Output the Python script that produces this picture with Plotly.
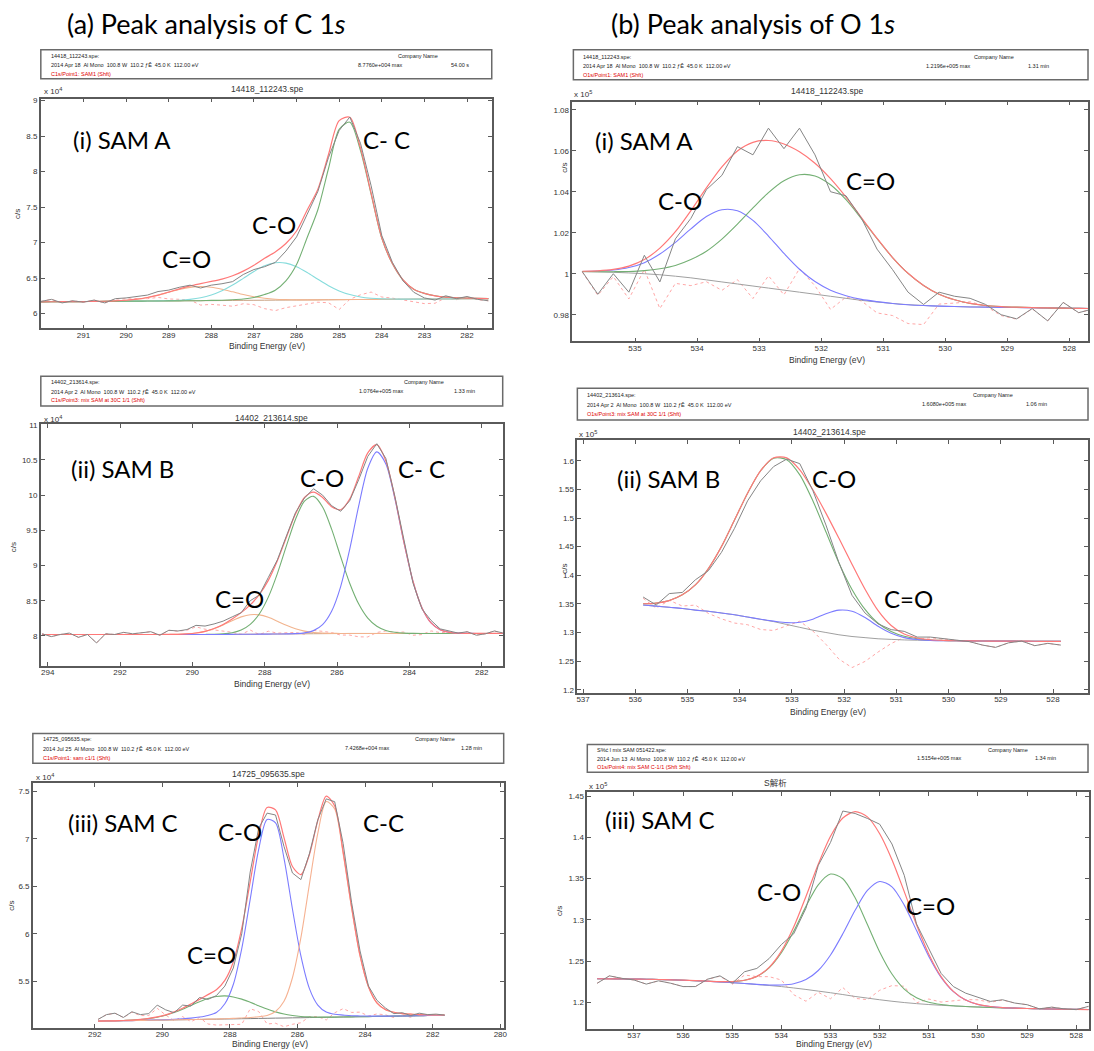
import numpy as np
import plotly.graph_objects as go

W, H = 1094, 1051

# ======================= DATA =======================
# ---- (a)(i) C 1s, SAM A   (c/s in units of 1e4) ----
a1_be = [292.0, 291.75, 291.5, 291.25, 291.0, 290.75, 290.5, 290.25, 290.0, 289.75,
         289.5, 289.25, 289.0, 288.75, 288.5, 288.25, 288.0, 287.75, 287.5, 287.25,
         287.0, 286.75, 286.5, 286.25, 286.0, 285.75, 285.5, 285.25, 285.0, 284.75,
         284.5, 284.25, 284.0, 283.75, 283.5, 283.25, 283.0, 282.75, 282.5, 282.25,
         282.0, 281.75, 281.5]
a1_raw = [6.17, 6.20, 6.15, 6.18, 6.16, 6.19, 6.15, 6.21, 6.22, 6.24, 6.26, 6.31, 6.33, 6.37,
          6.40, 6.36, 6.40, 6.42, 6.45, 6.55, 6.62, 6.66, 6.72, 6.88, 7.08, 7.40, 7.72, 8.20,
          8.58, 8.77, 8.40, 7.80, 7.10, 6.72, 6.46, 6.30, 6.22, 6.19, 6.25, 6.21, 6.24, 6.20, 6.18]
a1_bg = [6.165, 6.166, 6.167, 6.168, 6.169, 6.170, 6.171, 6.172, 6.174, 6.175, 6.176, 6.177,
         6.178, 6.179, 6.180, 6.181, 6.182, 6.183, 6.185, 6.186, 6.187, 6.188, 6.189, 6.190,
         6.191, 6.192, 6.193, 6.194, 6.196, 6.197, 6.198, 6.199, 6.200, 6.201, 6.202, 6.203,
         6.204, 6.205, 6.206, 6.207, 6.208, 6.209, 6.210]
a1_peak_c_eq_o = [0, 0, 0, 0, 0, 0.001, 0.002, 0.006, 0.013, 0.027, 0.05, 0.082, 0.121, 0.16,
                  0.189, 0.2, 0.189, 0.16, 0.121, 0.082, 0.05, 0.027, 0.013, 0.006, 0.002, 0.001,
                  0, 0, 0, 0, 0, 0, 0, 0, 0, 0, 0, 0, 0, 0, 0, 0, 0]
a1_peak_c_o = [0, 0, 0, 0, 0, 0, 0, 0, 0, 0, 0, 0.001, 0.0035, 0.009, 0.02, 0.041, 0.079, 0.137,
               0.216, 0.31, 0.405, 0.484, 0.526, 0.521, 0.47, 0.387, 0.29, 0.198, 0.123, 0.07,
               0.036, 0.017, 0.007, 0.003, 0.001, 0, 0, 0, 0, 0, 0, 0, 0]
a1_peak_c_c = [0, 0, 0, 0, 0, 0, 0, 0, 0, 0, 0, 0, 0, 0, 0, 0, 0.003, 0.005, 0.01, 0.02, 0.04,
               0.08, 0.14, 0.27, 0.5, 0.88, 1.27, 1.85, 2.4, 2.5, 2.1, 1.48, 0.86, 0.5, 0.27,
               0.14, 0.08, 0.045, 0.025, 0.015, 0.01, 0.005, 0]
a1_xticks = [291, 290, 289, 288, 287, 286, 285, 284, 283, 282]
a1_yticks = [6, 6.5, 7, 7.5, 8, 8.5, 9]
a1_ylabels = ["6", "6.5", "7", "7.5", "8", "8.5", "9"]

# ---- (b)(i) O 1s, SAM A   (c/s in units of 1e5) ----
b1_be = [535.85, 535.6, 535.35, 535.1, 534.85, 534.6, 534.35, 534.1, 533.85, 533.6, 533.35,
         533.1, 532.85, 532.6, 532.35, 532.1, 531.85, 531.6, 531.35, 531.1, 530.85, 530.6,
         530.35, 530.1, 529.85, 529.6, 529.35, 529.1, 528.85, 528.6, 528.35, 528.1, 527.85, 527.6]
b1_raw = [1.001, 0.990, 1.000, 0.991, 1.009, 0.996, 1.017, 1.027, 1.041, 1.048, 1.062, 1.058,
          1.071, 1.061, 1.071, 1.058, 1.040, 1.038, 1.027, 1.012, 1.002, 0.991, 0.985, 0.991,
          0.989, 0.988, 0.985, 0.980, 0.978, 0.983, 0.977, 0.986, 0.981, 0.983]
b1_bg = [1.0010, 1.0009, 1.0007, 1.0004, 1.0000, 0.9995, 0.9988, 0.9980, 0.9970, 0.9960, 0.9950,
         0.9940, 0.9930, 0.9920, 0.9910, 0.9900, 0.9890, 0.9880, 0.9870, 0.9862, 0.9855, 0.9849,
         0.9845, 0.9842, 0.9840, 0.9838, 0.9837, 0.9836, 0.9835, 0.9834, 0.9833, 0.9832, 0.9831,
         0.9830]
b1_peak_c_o = [0.0001, 0.0004, 0.0011, 0.0026, 0.0054, 0.0101, 0.0165, 0.0239, 0.0309, 0.0352,
               0.0357, 0.032, 0.0254, 0.0179, 0.0112, 0.0062, 0.003, 0.0013, 0.0005, 0.0002,
               0, 0, 0, 0, 0, 0, 0, 0, 0, 0, 0, 0, 0, 0]
b1_peak_c_eq_o = [0.0001, 0.0001, 0.0003, 0.0007, 0.0015, 0.0029, 0.0052, 0.0089, 0.014, 0.0209,
                  0.0292, 0.0381, 0.0466, 0.0534, 0.0573, 0.0577, 0.0544, 0.0481, 0.0398, 0.0309,
                  0.0224, 0.0153, 0.0098, 0.0058, 0.0033, 0.0017, 0.0008, 0.0004, 0.0002, 0.0001,
                  0, 0, 0, 0]
b1_xticks = [535, 534, 533, 532, 531, 530, 529, 528]
b1_yticks = [0.98, 1.0, 1.02, 1.04, 1.06, 1.08]
b1_ylabels = ["0.98", "1", "1.02", "1.04", "1.06", "1.08"]

# ---- (a)(ii) C 1s, SAM B   (c/s in units of 1e4) ----
a2_be = [294.15, 293.9, 293.65, 293.4, 293.15, 292.9, 292.65, 292.4, 292.15, 291.9, 291.65,
         291.4, 291.15, 290.9, 290.65, 290.4, 290.15, 289.9, 289.65, 289.4, 289.15, 288.9,
         288.65, 288.4, 288.15, 287.9, 287.65, 287.4, 287.15, 286.9, 286.65, 286.4, 286.15,
         285.9, 285.65, 285.4, 285.15, 284.9, 284.65, 284.4, 284.15, 283.9, 283.65, 283.4,
         283.15, 282.9, 282.65, 282.4, 282.15, 281.9, 281.65, 281.4]
a2_raw = [8.03, 7.99, 8.02, 8.04, 7.98, 8.02, 7.90, 8.03, 8.02, 8.05, 8.03, 8.04, 8.06, 8.01,
          8.08, 8.07, 8.09, 8.15, 8.14, 8.17, 8.21, 8.27, 8.33, 8.50, 8.58, 8.83, 9.08, 9.42,
          9.75, 9.96, 10.09, 10.00, 9.85, 9.77, 9.92, 10.22, 10.55, 10.73, 10.52, 9.98, 9.35,
          8.75, 8.38, 8.22, 8.10, 8.07, 8.04, 8.06, 8.01, 8.03, 8.07, 8.04]
a2_bg = [8.020, 8.020, 8.020, 8.020, 8.020, 8.020, 8.020, 8.020, 8.020, 8.020, 8.020, 8.020,
         8.020, 8.020, 8.020, 8.020, 8.020, 8.020, 8.020, 8.020, 8.021, 8.022, 8.023, 8.024,
         8.025, 8.026, 8.027, 8.028, 8.029, 8.030, 8.031, 8.032, 8.033, 8.034, 8.035, 8.035,
         8.035, 8.035, 8.035, 8.035, 8.035, 8.035, 8.035, 8.035, 8.035, 8.035, 8.035, 8.035,
         8.035, 8.035, 8.035, 8.035]
a2_peak_c_eq_o = [0, 0, 0, 0, 0, 0, 0, 0, 0, 0, 0, 0, 0, 0, 0.001, 0.003, 0.009, 0.021, 0.044,
                  0.082, 0.134, 0.194, 0.247, 0.277, 0.274, 0.238, 0.182, 0.122, 0.073, 0.038,
                  0.017, 0.007, 0.003, 0.001, 0, 0, 0, 0, 0, 0, 0, 0, 0, 0, 0, 0, 0, 0, 0, 0, 0, 0]
a2_peak_c_o = [0, 0, 0, 0, 0, 0, 0, 0, 0, 0, 0, 0, 0, 0, 0, 0, 0, 0, 0.001, 0.003, 0.008, 0.024,
               0.061, 0.14, 0.287, 0.525, 0.858, 1.25, 1.625, 1.885, 1.951, 1.80, 1.483, 1.09,
               0.714, 0.418, 0.218, 0.102, 0.042, 0.016, 0.005, 0.001, 0, 0, 0, 0, 0, 0, 0, 0, 0, 0]
a2_peak_c_c = [0, 0, 0, 0, 0, 0, 0, 0, 0, 0, 0, 0, 0, 0, 0, 0, 0, 0, 0, 0, 0, 0, 0, 0, 0, 0, 0,
               0.001, 0.003, 0.013, 0.044, 0.128, 0.317, 0.667, 1.194, 1.815, 2.347, 2.579,
               2.408, 1.912, 1.29, 0.74, 0.361, 0.149, 0.053, 0.016, 0.004, 0.001, 0, 0, 0, 0]
a2_xticks = [294, 292, 290, 288, 286, 284, 282]
a2_yticks = [8, 8.5, 9, 9.5, 10, 10.5, 11]
a2_ylabels = ["8", "8.5", "9", "9.5", "10", "10.5", "11"]

# ---- (b)(ii) O 1s, SAM B   (c/s in units of 1e5) ----
b2_be = [535.85, 535.6, 535.35, 535.1, 534.85, 534.6, 534.35, 534.1, 533.85, 533.6, 533.35,
         533.1, 532.85, 532.6, 532.35, 532.1, 531.85, 531.6, 531.35, 531.1, 530.85, 530.6,
         530.35, 530.1, 529.85, 529.6, 529.35, 529.1, 528.85, 528.6, 528.35, 528.1, 527.85]
b2_raw = [1.362, 1.348, 1.368, 1.370, 1.392, 1.408, 1.440, 1.482, 1.530, 1.565, 1.590, 1.603,
          1.595, 1.548, 1.488, 1.422, 1.365, 1.334, 1.315, 1.305, 1.302, 1.292, 1.292, 1.289,
          1.287, 1.284, 1.278, 1.274, 1.282, 1.285, 1.277, 1.281, 1.278]
b2_bg = [1.348, 1.346, 1.344, 1.342, 1.339, 1.337, 1.334, 1.331, 1.327, 1.323, 1.319, 1.314,
         1.309, 1.304, 1.300, 1.296, 1.293, 1.291, 1.289, 1.288, 1.287, 1.2865, 1.286, 1.2857,
         1.2855, 1.2853, 1.2851, 1.285, 1.2849, 1.2848, 1.2847, 1.2846, 1.2845]
b2_peak_c_o = [0.0022, 0.0054, 0.0118, 0.0238, 0.0441, 0.0747, 0.1161, 0.1655, 0.2164, 0.2596,
               0.2855, 0.288, 0.2664, 0.2261, 0.1759, 0.1255, 0.0822, 0.0493, 0.0272, 0.0137,
               0.0064, 0.0027, 0.0010, 0.0004, 0.0001, 0, 0, 0, 0, 0, 0, 0, 0]
b2_peak_c_eq_o = [0, 0, 0, 0, 0, 0, 0, 0, 0, 0.0002, 0.0009, 0.0032, 0.0089, 0.0193, 0.0327,
                  0.043, 0.0441, 0.0352, 0.0219, 0.0106, 0.004, 0.0012, 0.0003, 0, 0, 0, 0, 0,
                  0, 0, 0, 0, 0]
b2_xticks = [537, 536, 535, 534, 533, 532, 531, 530, 529, 528]
b2_yticks = [1.2, 1.25, 1.3, 1.35, 1.4, 1.45, 1.5, 1.55, 1.6]
b2_ylabels = ["1.2", "1.25", "1.3", "1.35", "1.4", "1.45", "1.5", "1.55", "1.6"]

# ---- (a)(iii) C 1s, SAM C   (c/s in units of 1e4) ----
a3_be = [291.9, 291.65, 291.4, 291.15, 290.9, 290.65, 290.4, 290.15, 289.9, 289.65, 289.4,
         289.15, 288.9, 288.65, 288.4, 288.15, 287.9, 287.65, 287.4, 287.15, 286.9, 286.65,
         286.4, 286.15, 285.9, 285.65, 285.4, 285.15, 284.9, 284.65, 284.4, 284.15, 283.9,
         283.65, 283.4, 283.15, 282.9, 282.65, 282.4, 282.15, 281.9, 281.65]
a3_raw = [5.10, 5.15, 5.165, 5.12, 5.18, 5.15, 5.16, 5.25, 5.20, 5.17, 5.25, 5.24, 5.33, 5.31,
          5.35, 5.45, 5.64, 6.00, 6.65, 7.11, 7.27, 7.25, 6.92, 6.64, 6.57, 6.84, 7.20, 7.42,
          7.39, 6.95, 6.33, 5.82, 5.45, 5.30, 5.22, 5.16, 5.17, 5.14, 5.165, 5.15, 5.155, 5.145]
a3_bg = [5.081, 5.083, 5.084, 5.086, 5.087, 5.089, 5.090, 5.092, 5.093, 5.095, 5.096, 5.098,
         5.099, 5.101, 5.102, 5.104, 5.105, 5.107, 5.108, 5.110, 5.111, 5.113, 5.114, 5.116,
         5.117, 5.119, 5.120, 5.122, 5.123, 5.125, 5.126, 5.128, 5.129, 5.131, 5.132, 5.134,
         5.135, 5.137, 5.138, 5.140, 5.141, 5.143]
a3_peak_c_eq_o = [0, 0.0004, 0.0009, 0.0022, 0.0047, 0.0094, 0.0176, 0.031, 0.0507, 0.0777,
                  0.111, 0.149, 0.186, 0.218, 0.238, 0.243, 0.231, 0.206, 0.172, 0.134, 0.097,
                  0.066, 0.0419, 0.0249, 0.0138, 0.0071, 0.0035, 0.0016, 0.0007, 0.0003,
                  0, 0, 0, 0, 0, 0, 0, 0, 0, 0, 0, 0]
a3_peak_c_o = [0, 0, 0, 0, 0, 0.001, 0.002, 0.003, 0.004, 0.006, 0.01, 0.015, 0.025, 0.04, 0.07,
               0.16, 0.362, 0.738, 1.255, 1.775, 2.092, 2.055, 1.68, 1.145, 0.65, 0.307, 0.13,
               0.055, 0.03, 0.02, 0.012, 0.008, 0.005, 0.003, 0.002, 0.001, 0, 0, 0, 0, 0, 0]
a3_peak_c_c = [0, 0, 0, 0, 0, 0, 0, 0, 0, 0, 0, 0, 0, 0.001, 0.002, 0.003, 0.005, 0.008, 0.012,
               0.018, 0.03, 0.07, 0.176, 0.422, 0.842, 1.399, 1.937, 2.27, 2.19, 1.717, 1.145,
               0.636, 0.31, 0.14, 0.07, 0.04, 0.025, 0.018, 0.012, 0.008, 0.005, 0.003]
a3_xticks = [292, 290, 288, 286, 284, 282, 280]
a3_yticks = [5.5, 6, 6.5, 7, 7.5]
a3_ylabels = ["5.5", "6", "6.5", "7", "7.5"]

# ---- (b)(iii) O 1s, SAM C   (c/s in units of 1e5) ----
b3_be = [537.75, 537.5, 537.25, 537.0, 536.75, 536.5, 536.25, 536.0, 535.75, 535.5, 535.25,
         535.0, 534.75, 534.5, 534.25, 534.0, 533.75, 533.5, 533.25, 533.0, 532.75, 532.5,
         532.25, 532.0, 531.75, 531.5, 531.25, 531.0, 530.75, 530.5, 530.25, 530.0, 529.75,
         529.5, 529.25, 529.0, 528.75, 528.5, 528.25, 528.0, 527.75]
b3_raw = [1.223, 1.232, 1.229, 1.227, 1.222, 1.226, 1.223, 1.219, 1.219, 1.228, 1.232, 1.223,
          1.237, 1.241, 1.253, 1.270, 1.283, 1.314, 1.366, 1.394, 1.432, 1.429, 1.423, 1.416,
          1.392, 1.354, 1.295, 1.265, 1.235, 1.219, 1.211, 1.206, 1.201, 1.203, 1.199, 1.197,
          1.192, 1.194, 1.192, 1.191, 1.195]
b3_bg = [1.2285, 1.2284, 1.2283, 1.2281, 1.2279, 1.2276, 1.2272, 1.2267, 1.2261, 1.2254, 1.2246,
         1.2237, 1.2227, 1.2215, 1.2203, 1.219, 1.2173, 1.2155, 1.2135, 1.2115, 1.2093, 1.207,
         1.205, 1.203, 1.2012, 1.1996, 1.1983, 1.1972, 1.1963, 1.1955, 1.1948, 1.1942, 1.1937,
         1.1932, 1.1928, 1.1924, 1.1921, 1.1918, 1.1915, 1.1913, 1.1911]
b3_peak_c_o = [0, 0, 0, 0, 0, 0, 0, 0, 0, 0.0001, 0.0004, 0.0013, 0.0039, 0.0097, 0.0214, 0.0411,
               0.0688, 0.1008, 0.1289, 0.144, 0.1405, 0.1198, 0.0893, 0.058, 0.033, 0.0164,
               0.0071, 0.0027, 0.0009, 0.0002, 0, 0, 0, 0, 0, 0, 0, 0, 0, 0, 0]
b3_peak_c_eq_o = [0, 0, 0, 0, 0, 0, 0, 0, 0, 0, 0, 0, 0.0001, 0.0002, 0.0006, 0.0019, 0.0051,
                  0.012, 0.025, 0.0458, 0.0737, 0.1045, 0.1306, 0.1435, 0.1388, 0.1182, 0.0886,
                  0.0584, 0.0339, 0.0174, 0.0078, 0.0031, 0.0011, 0.0003, 0.0001, 0, 0, 0, 0, 0, 0]
b3_xticks = [537, 536, 535, 534, 533, 532, 531, 530, 529, 528]
b3_yticks = [1.2, 1.25, 1.3, 1.35, 1.4, 1.45]
b3_ylabels = ["1.2", "1.25", "1.3", "1.35", "1.4", "1.45"]

# ======================= STYLE =======================
RAW = "#858585"
ENV = "#ff7878"
GREEN = "#74b074"
CYAN = "#86dcdc"
ORANGE = "#f2b48e"
BLUE = "#7c7cff"
SALMON = "#f6b292"
BGC = "#a0a0a0"
RESID = "#ffa6a6"
AX = "#5a5a5a"
TXT = "#333333"
SANS = "Liberation Sans, Arial, sans-serif"
BIG = "Lato, Noto Sans, sans-serif"

panels = [
    dict(be=a1_be, raw=a1_raw, bg=a1_bg, bgcol="#c8a080",
         comps=[(a1_peak_c_eq_o, ORANGE), (a1_peak_c_o, CYAN), (a1_peak_c_c, GREEN)],
         frame=(40, 493, 96, 327), xr=[292.0, 281.42], yr=[5.79, 9.03],
         xt=a1_xticks, yt=a1_yticks, yl=a1_ylabels),
    dict(be=b1_be, raw=b1_raw, bg=b1_bg, bgcol=BGC,
         comps=[(b1_peak_c_o, BLUE), (b1_peak_c_eq_o, GREEN)],
         frame=(574, 1092, 99, 340), xr=[536.01, 527.7], yr=[0.967, 1.084],
         xt=b1_xticks, yt=b1_yticks, yl=b1_ylabels),
    dict(be=a2_be, raw=a2_raw, bg=a2_bg, bgcol="#c8a080",
         comps=[(a2_peak_c_eq_o, ORANGE), (a2_peak_c_o, GREEN), (a2_peak_c_c, BLUE)],
         frame=(40, 504, 423, 666), xr=[294.19, 281.42], yr=[7.575, 11.01],
         xt=a2_xticks, yt=a2_yticks, yl=a2_ylabels),
    dict(be=b2_be, raw=b2_raw, bg=b2_bg, bgcol=BGC,
         comps=[(b2_peak_c_o, GREEN), (b2_peak_c_eq_o, BLUE)],
         frame=(579, 1092, 439, 693), xr=[537.11, 527.33], yr=[1.1948, 1.6365],
         xt=b2_xticks, yt=b2_yticks, yl=b2_ylabels),
    dict(be=a3_be, raw=a3_raw, bg=a3_bg, bgcol="#808080",
         comps=[(a3_peak_c_eq_o, GREEN), (a3_peak_c_o, BLUE), (a3_peak_c_c, SALMON)],
         frame=(32, 505, 784, 1030), xr=[293.83, 279.9], yr=[5.008, 7.584],
         xt=a3_xticks, yt=a3_yticks, yl=a3_ylabels),
    dict(be=b3_be, raw=b3_raw, bg=b3_bg, bgcol=BGC,
         comps=[(b3_peak_c_o, GREEN), (b3_peak_c_eq_o, BLUE)],
         frame=(589, 1093, 793, 1031), xr=[537.95, 527.74], yr=[1.1674, 1.4548],
         xt=b3_xticks, yt=b3_yticks, yl=b3_ylabels),
]

fig = go.Figure()
layout_axes = {}
for k, p in enumerate(panels, start=1):
    sx = "" if k == 1 else str(k)
    xa, ya = "x" + sx, "y" + sx
    be = np.array(p["be"], dtype=float)
    bg = np.array(p["bg"], dtype=float)
    raw = np.array(p["raw"], dtype=float)
    comps = [(np.array(c, dtype=float), col) for c, col in p["comps"]]
    env = bg + sum(c for c, _ in comps)
    resid = raw - env + bg

    common = dict(xaxis=xa, yaxis=ya, mode="lines", hoverinfo="skip", showlegend=False)
    fig.add_trace(go.Scatter(x=be, y=resid, line=dict(color=RESID, width=1, dash="dot"), **common))
    fig.add_trace(go.Scatter(x=be, y=bg, line=dict(color=p["bgcol"], width=1, shape="spline"), **common))
    for c, col in comps:
        fig.add_trace(go.Scatter(x=be, y=bg + c, line=dict(color=col, width=1.1, shape="spline", smoothing=0.8), **common))
    fig.add_trace(go.Scatter(x=be, y=env, line=dict(color=ENV, width=1.2, shape="spline", smoothing=0.8), **common))
    fig.add_trace(go.Scatter(x=be, y=raw, line=dict(color=RAW, width=1), **common))

    x0, x1, y0, y1 = p["frame"]
    axstyle = dict(showline=True, linecolor=AX, linewidth=1.5, mirror="allticks",
                   ticks="inside", ticklen=4, tickwidth=1, tickcolor=AX,
                   showgrid=False, zeroline=False,
                   tickfont=dict(family=SANS, size=8, color=TXT))
    layout_axes["xaxis" + sx] = dict(domain=[x0 / W, x1 / W], range=p["xr"], anchor=ya,
                                     tickmode="array", tickvals=p["xt"],
                                     ticktext=[str(v) for v in p["xt"]],
                                     ticklabelstandoff=-2, **axstyle)
    layout_axes["yaxis" + sx] = dict(domain=[1 - y1 / H, 1 - y0 / H], range=p["yr"], anchor=xa,
                                     tickmode="array", tickvals=p["yt"], ticktext=p["yl"], **axstyle)

fig.update_layout(**layout_axes)


def A(x, y, text, size, family=SANS, color=TXT, xanchor="left", yanchor="middle", angle=0):
    return dict(xref="paper", yref="paper", x=x / W, y=1 - y / H, text=text, showarrow=False,
                font=dict(family=family, size=size, color=color), xanchor=xanchor,
                yanchor=yanchor, textangle=angle)


anns = []
shapes = []

# top headings
anns.append(A(64, 21, "(a) Peak analysis of C 1<i>s</i>", 27, family=BIG, color="#000"))
anns.append(A(611, 21, "(b) Peak analysis of O 1<i>s</i>", 27, family=BIG, color="#000"))

# header boxes
headers = [
    (40, 493, 47, 76, 48, (53, 62, 71),
     ["14418_112243.spe:", "2014 Apr 18  Al Mono  100.8 W  110.2 ƒÊ  45.0 K  112.00 eV",
      "C1s/Point1: SAM1 (Shft)"],
     [("Company Name", 397, 53), ("8.7760e+004 max", 357, 62), ("54.00 s", 450, 62)]),
    (575, 1092, 47, 77, 583, (54, 63, 72),
     ["14418_112243.spe:", "2014 Apr 18  Al Mono  100.8 W  110.2 ƒÊ  45.0 K  112.00 eV",
      "O1s/Point1: SAM1 (Shft)"],
     [("Company Name", 975, 54), ("1.2196e+005 max", 927, 63), ("1.31 min", 1030, 63)]),
    (40, 504, 375, 405, 48, (381, 390, 399),
     ["14402_213614.spe:", "2014 Apr 2  Al Mono  100.8 W  110.2 ƒÊ  45.0 K  112.00 eV",
      "C1s/Point3: mix SAM at 30C 1/1 (Shft)"],
     [("Company Name", 403, 381), ("1.0764e+005 max", 358, 390), ("1.33 min", 453, 390)]),
    (579, 1092, 387, 419, 587, (394, 403, 413),
     ["14402_213614.spe:", "2014 Apr 2  Al Mono  100.8 W  110.2 ƒÊ  45.0 K  112.00 eV",
      "O1s/Point3: mix SAM at 30C 1/1 (Shft)"],
     [("Company Name", 974, 394), ("1.6080e+005 max", 923, 403), ("1.06 min", 1028, 403)]),
    (32, 505, 734, 764, 40, (740, 749, 759),
     ["14725_095635.spe:", "2014 Jul 25  Al Mono  100.8 W  110.2 ƒÊ  45.0 K  112.00 eV",
      "C1s/Point1: sam c1/1 (Shft)"],
     [("Company Name", 414, 740), ("7.4268e+004 max", 344, 749), ("1.28 min", 460, 749)]),
    (589, 1092, 745, 773, 597, (751, 759, 768),
     ["S%ć l mix SAM 051422.spe:", "2014 Jun 13  Al Mono  100.8 W  110.2 ƒÊ  45.0 K  112.00 eV",
      "O1s/Point4: mix SAM C-1/1 (Shft Shft)"],
     [("Company Name", 990, 751), ("1.5154e+005 max", 918, 759), ("1.34 min", 1037, 759)]),
]
for (bx0, bx1, by0, by1, lx, ys, lines, right) in headers:
    shapes.append(dict(type="rect", xref="paper", yref="paper", x0=bx0 / W, x1=bx1 / W,
                       y0=1 - by1 / H, y1=1 - by0 / H, line=dict(color="#6a6a6a", width=1.5)))
    for i, (t, yy) in enumerate(zip(lines, ys)):
        anns.append(A(lx, yy, t, 5.5, color="#e00000" if i == 2 else "#222"))
    for t, xx, yy in right:
        anns.append(A(xx, yy, t, 5.5, color="#222"))

# plot titles, exponents, axis labels
titles = [("14418_112243.spe", 267, 86), ("14418_112243.spe", 830, 88),
          ("14402_213614.spe", 272, 417), ("14402_213614.spe", 832, 431),
          ("14725_095635.spe", 269, 775), ("S解析", 778, 784)]
for t, xx, yy in titles:
    anns.append(A(xx, yy, t, 8.5, family=SANS + ", Noto Sans CJK SC", xanchor="center"))

exps = [("x 10<sup>4</sup>", 41, 88), ("x 10<sup>5</sup>", 574, 91), ("x 10<sup>4</sup>", 41, 418),
        ("x 10<sup>5</sup>", 579, 433), ("x 10<sup>4</sup>", 33, 778), ("x 10<sup>5</sup>", 589, 787)]
for t, xx, yy in exps:
    anns.append(A(xx, yy, t, 8))

xtitles = [(267, 345), (830, 359), (272, 684), (831, 712), (270, 1046), (837, 1046)]
for xx, yy in xtitles:
    anns.append(A(xx, yy, "Binding Energy (eV)", 8.5, xanchor="center"))

ytitles = [(17, 212), (566, 165), (12, 547), (566, 568), (11, 907), (561, 912)]
for xx, yy in ytitles:
    anns.append(A(xx, yy, "c/s", 8, xanchor="center", angle=-90))

# peak labels
labels = [
    ("(i) SAM A", 70, 137), ("C- C", 362, 137), ("C-O", 250, 223), ("C=O", 160, 257),
    ("(i) SAM A", 595, 138), ("C=O", 847, 178), ("C-O", 658, 198),
    ("(ii) SAM B", 68, 468), ("C-O", 298, 477), ("C- C", 397, 468), ("C=O", 213, 598),
    ("(ii) SAM B", 617, 478), ("C-O", 813, 478), ("C=O", 885, 598),
    ("(iii) SAM C", 65, 823), ("C-O", 216, 832), ("C-C", 362, 823), ("C=O", 185, 956),
    ("(iii) SAM C", 605, 820), ("C-O", 757, 893), ("C=O", 907, 907),
]
for t, xx, yy in labels:
    anns.append(A(xx, yy, t, 24, family=BIG, color="#000"))

fig.update_layout(width=W, height=H, margin=dict(l=0, r=0, t=0, b=0),
                  paper_bgcolor="white", plot_bgcolor="white", showlegend=False,
                  annotations=anns, shapes=shapes)

fig.write_html("out.html", config={"displayModeBar": False},
               post_script="document.body.style.margin='0px';")
